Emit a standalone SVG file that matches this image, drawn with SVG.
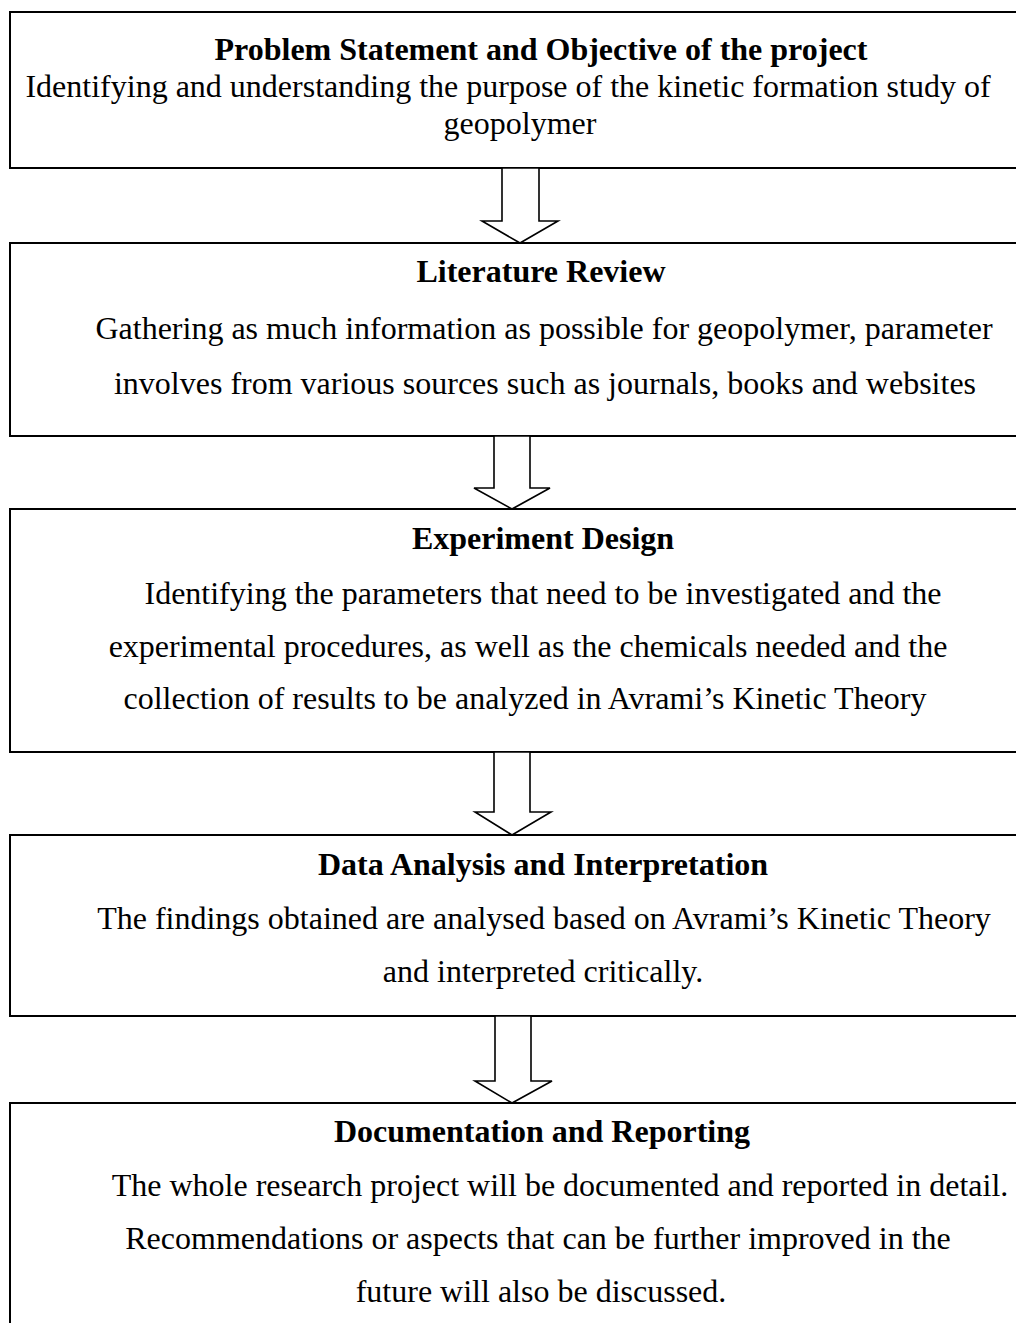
<svg xmlns="http://www.w3.org/2000/svg" width="1016" height="1323" viewBox="0 0 1016 1323">
<style>
.box{fill:#fff;stroke:#000;stroke-width:2}
.arr{fill:#fff;stroke:#000;stroke-width:1.6;stroke-linejoin:miter}
.t{font-family:"Liberation Serif","Times New Roman",serif;font-size:32px;fill:#000;text-anchor:middle}
.b{font-weight:bold}
</style>
<rect width="1016" height="1323" fill="#fff"/>
<g id="node1">
<rect class="box" x="10" y="12" width="1030" height="156"/>
<text class="t b" x="541" y="60">Problem Statement and Objective of the project</text>
<text class="t" x="508" y="97">Identifying and understanding the purpose of the kinetic formation study of</text>
<text class="t" x="520" y="134">geopolymer</text>
</g>
<g id="node2">
<rect class="box" x="10" y="243" width="1030" height="193"/>
<text class="t b" x="541" y="282">Literature Review</text>
<text class="t" x="544" y="339">Gathering as much information as possible for geopolymer, parameter</text>
<text class="t" x="545" y="394">involves from various sources such as journals, books and websites</text>
</g>
<g id="node3">
<rect class="box" x="10" y="509" width="1030" height="243"/>
<text class="t b" x="543" y="549">Experiment Design</text>
<text class="t" x="543" y="604">Identifying the parameters that need to be investigated and the</text>
<text class="t" x="528" y="657">experimental procedures, as well as the chemicals needed and the</text>
<text class="t" x="525" y="709">collection of results to be analyzed in Avrami’s Kinetic Theory</text>
</g>
<g id="node4">
<rect class="box" x="10" y="835" width="1030" height="181"/>
<text class="t b" x="543" y="875">Data Analysis and Interpretation</text>
<text class="t" x="544" y="929">The findings obtained are analysed based on Avrami’s Kinetic Theory</text>
<text class="t" x="543" y="982">and interpreted critically.</text>
</g>
<g id="node5">
<rect class="box" x="10" y="1103" width="1030" height="240"/>
<text class="t b" x="542" y="1142">Documentation and Reporting</text>
<text class="t" x="560" y="1196">The whole research project will be documented and reported in detail.</text>
<text class="t" x="538" y="1249">Recommendations or aspects that can be further improved in the</text>
<text class="t" x="541" y="1302">future will also be discussed.</text>
</g>
<g id="connectors">
<polygon class="arr" points="502,168 539,168 539,221 558,221 520,243 482,221 502,221"/>
<polygon class="arr" points="494,436 530,436 530,488 550,488 512,509 474,488 494,488"/>
<polygon class="arr" points="494,752 530,752 530,812 551,812 512,835 475,812 494,812"/>
<polygon class="arr" points="495,1016 531,1016 531,1081 552,1081 512,1103 475,1081 495,1081"/>
</g>
</svg>
